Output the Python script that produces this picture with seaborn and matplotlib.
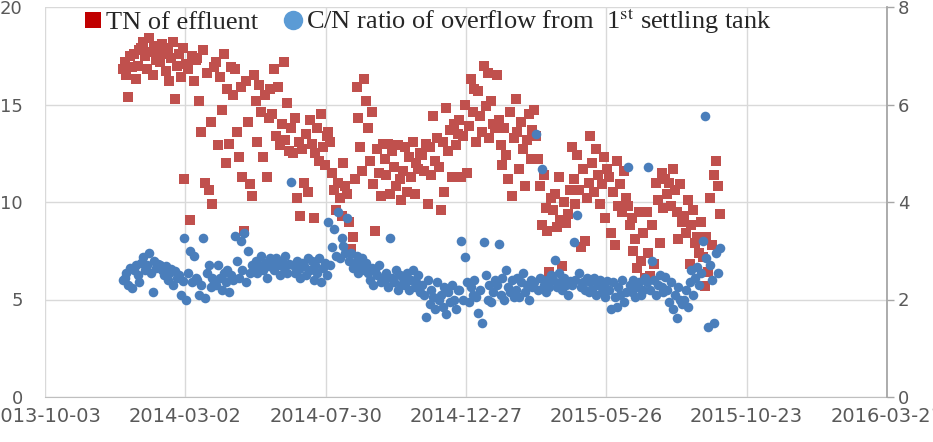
import matplotlib
matplotlib.use('Agg')
import matplotlib.pyplot as plt
import matplotlib.dates as mdates
from matplotlib.lines import Line2D
import pandas as pd
import seaborn as sns

# data: one value every 2 days starting at start_date
start_date = '2013-12-25'
step = '2D'

tn_effluent = [
    16.8, 17.2, 16.5, 15.4, 17.5, 16.9, 17.6, 16.3, 17.0, 17.8,
    17.9, 18.2, 17.5, 16.8, 18.4, 17.7, 16.5, 18.0, 17.3, 17.8,
    17.2, 18.1, 17.6, 16.7, 17.9, 16.2, 17.4, 18.2, 15.3, 17.0,
    17.6, 16.4, 17.9, 11.2, 17.1, 16.8, 9.1, 17.5, 16.2, 17.3,
    17.4, 15.2, 13.6, 17.8, 11.0, 16.6, 10.6, 14.1, 9.9, 16.9,
    17.2, 12.9, 16.4, 14.7, 17.6, 12.0, 15.8, 13.0, 16.9, 15.5,
    16.8, 13.6, 12.3, 15.9, 11.3, 8.5, 16.2, 14.1, 10.9, 10.3,
    16.5, 15.2, 13.1, 16.0, 14.6, 12.3, 15.5, 11.3, 14.3, 15.8,
    14.5, 16.8, 13.4, 15.9, 12.9, 14.0, 17.2, 13.2, 15.1, 12.6,
    13.8, 12.5, 14.3, 10.2, 13.1, 9.3, 12.7, 11.0, 13.5, 10.5,
    14.2, 13.0, 9.2, 12.5, 13.8, 12.1, 14.5, 12.8, 11.9, 13.4,
    13.6, 13.1, 11.5, 10.6, 9.6, 11.0, 10.2, 9.3, 12.0, 10.8,
    10.4, 9.0, 7.6, 8.2, 11.2, 15.9, 14.3, 12.8, 11.6, 16.3,
    15.2, 13.8, 12.1, 14.6, 10.9, 8.5, 12.7, 11.5, 10.3, 13.0,
    12.2, 11.4, 13.0, 10.4, 12.6, 11.8, 10.8, 12.9, 11.2, 10.1,
    11.6, 12.8, 10.5, 12.3, 11.3, 13.1, 10.4, 12.0, 11.7, 12.5,
    12.4, 11.6, 13.0, 9.9, 12.8, 11.4, 14.4, 12.1, 13.3, 11.8,
    9.6, 13.1, 10.5, 14.8, 12.6, 13.7, 11.3, 14.0, 12.9, 13.5,
    14.2, 11.3, 13.4, 15.0, 11.5, 13.9, 16.3, 14.6, 15.8, 13.1,
    15.7, 14.4, 13.6, 17.0, 14.9, 16.6, 13.3, 15.2, 14.0, 13.8,
    16.5, 14.2, 12.9, 11.9, 13.8, 12.4, 11.2, 14.6, 10.3, 13.3,
    15.3, 13.6, 11.7, 14.1, 12.7, 10.8, 13.2, 14.5, 12.2, 13.7,
    14.7, 13.4, 12.2, 10.8, 8.8, 11.4, 9.7, 8.5, 6.4, 10.2,
    9.6, 10.4, 8.7, 11.3, 9.1, 6.7, 10.0, 8.9, 9.4, 10.6,
    12.8, 11.2, 9.9, 12.4, 10.6, 7.7, 11.7, 8.0, 10.2, 11.0,
    13.4, 12.0, 10.5, 12.7, 11.4, 9.9, 10.9, 12.3, 9.2, 11.7,
    11.3, 8.4, 10.5, 7.8, 12.1, 9.8, 10.9, 9.5, 11.6, 10.2,
    9.8, 8.8, 9.2, 7.5, 8.1, 6.6, 9.5, 7.0, 8.4, 6.1,
    9.5, 7.4, 6.2, 8.8, 6.8, 11.0, 10.1, 7.9, 11.5, 9.7,
    11.2, 10.4, 11.0, 9.8, 11.7, 10.6, 9.5, 8.1, 10.9, 9.0,
    9.3, 8.4, 10.1, 6.8, 8.8, 9.6, 7.9, 8.2, 7.4, 9.0,
    7.2, 5.7, 8.2, 6.4, 10.2, 7.8, 11.4, 12.1, 10.8, 9.4,
]

cn_ratio = [
    2.40, 2.45, 2.55, 2.30, 2.65, 2.24, 2.60, 2.70, 2.50, 2.35,
    2.75, 2.88, 2.60, 2.70, 2.95, 2.55, 2.16, 2.80, 2.65, 2.72,
    2.70, 2.60, 2.50, 2.68, 2.40, 2.55, 2.62, 2.30, 2.58, 2.45,
    2.50, 2.10, 2.38, 3.27, 2.00, 2.55, 3.00, 2.35, 2.90, 2.45,
    2.40, 2.10, 2.30, 3.27, 2.04, 2.55, 2.70, 2.25, 2.45, 2.35,
    2.30, 2.70, 2.45, 2.20, 2.55, 2.35, 2.60, 2.15, 2.50, 2.40,
    3.30, 2.80, 2.45, 3.20, 2.60, 3.37, 2.35, 3.00, 2.55, 2.70,
    2.65, 2.80, 2.55, 2.70, 2.90, 2.60, 2.75, 2.45, 2.68, 2.85,
    2.75, 2.60, 2.85, 2.70, 2.50, 2.80, 2.65, 2.90, 2.55, 2.72,
    4.40, 2.70, 2.55, 2.80, 2.62, 2.45, 2.75, 2.68, 2.50, 2.85,
    2.60, 2.80, 2.40, 2.70, 2.55, 2.85, 2.35, 2.65, 2.75, 2.50,
    3.58, 2.70, 3.07, 3.44, 2.90, 3.79, 2.85, 3.27, 3.10, 2.95,
    3.68, 2.80, 2.95, 2.65, 2.75, 2.90, 2.55, 2.70, 2.85, 2.60,
    2.75, 2.55, 2.40, 2.65, 2.30, 2.60, 2.50, 2.70, 2.35, 2.45,
    2.40, 2.55, 2.25, 3.27, 2.45, 2.35, 2.60, 2.20, 2.50, 2.30,
    2.45, 2.30, 2.55, 2.20, 2.40, 2.60, 2.25, 2.35, 2.50, 2.15,
    2.30, 2.10, 1.65, 2.40, 1.90, 2.20, 2.05, 1.80, 2.35, 2.00,
    2.10, 1.85, 2.25, 1.70, 2.15, 1.95, 2.30, 2.00, 1.80, 2.20,
    2.20, 3.19, 2.00, 2.88, 2.35, 1.95, 2.25, 2.10, 2.40, 2.05,
    1.73, 2.20, 1.52, 3.17, 2.50, 2.00, 2.30, 1.95, 2.15, 2.40,
    2.30, 3.13, 2.10, 2.45, 2.00, 2.60, 2.25, 2.15, 2.40, 2.05,
    2.20, 2.45, 2.05, 2.35, 2.55, 2.15, 2.30, 2.00, 2.40, 2.25,
    2.35, 5.40, 2.20, 2.45, 4.67, 2.30, 2.15, 2.40, 2.25, 2.50,
    2.40, 2.82, 2.25, 2.55, 2.35, 2.20, 2.45, 2.30, 2.10, 2.38,
    2.30, 3.17, 2.40, 3.74, 2.55, 2.25, 2.35, 2.20, 2.45, 2.15,
    2.35, 2.20, 2.45, 2.10, 2.30, 2.40, 2.15, 2.25, 2.05, 2.38,
    2.20, 1.80, 2.35, 2.05, 1.85, 2.25, 2.10, 2.40, 1.95, 2.15,
    4.71, 2.30, 2.15, 2.40, 2.05, 2.25, 2.35, 2.10, 2.20, 2.45,
    2.35, 4.71, 2.20, 2.78, 2.40, 2.10, 2.30, 2.50, 2.25, 2.15,
    2.47, 2.20, 1.95, 2.35, 1.80, 2.10, 1.63, 2.25, 2.00, 1.90,
    2.00, 2.20, 1.85, 2.35, 2.60, 2.10, 2.45, 2.67, 2.30, 2.55,
    3.19, 5.76, 2.86, 1.44, 2.70, 2.40, 1.52, 2.95, 2.55, 3.05,
]

x_ticks = ['2013-10-03', '2014-03-02', '2014-07-30', '2014-12-27',
           '2015-05-26', '2015-10-23', '2016-03-21']
left_ticks = [0, 5, 10, 15, 20]
right_ticks = [0, 2, 4, 6, 8]

label_tn = 'TN of effluent'
label_cn = r'C/N ratio of overflow from  1$^{\mathrm{st}}$ settling tank'

df = pd.DataFrame({
    'date': pd.date_range(start_date, periods=len(tn_effluent), freq=step),
    'tn': tn_effluent,
    'cn': cn_ratio,
})

sns.set_style('white')
plt.rcParams['font.family'] = ['DejaVu Sans']
plt.rcParams['mathtext.fontset'] = 'stix'

red = '#c0504d'
blue = '#4a7ebb'
grid_c = '#d9d9d9'
text_c = '#595959'

fig = plt.figure(figsize=(9.33, 4.42), dpi=100)
ax = fig.add_axes([45 / 933, 1 - 397 / 442, 842 / 933, 390 / 442])
ax2 = ax.twinx()

sns.scatterplot(data=df, x='date', y='tn', ax=ax, marker='s', s=50,
                color=red, linewidth=0, legend=False)
sns.scatterplot(data=df, x='date', y='cn', ax=ax2, marker='o', s=48,
                color=blue, linewidth=0, legend=False)

xt = pd.to_datetime(x_ticks)
ax.set_xlim(xt[0], xt[-1])
ax.set_xticks(xt)
ax.xaxis.set_major_formatter(mdates.DateFormatter('%Y-%m-%d'))
ax.set_ylim(0, 20)
ax.set_yticks(left_ticks)
ax2.set_ylim(0, 8)
ax2.set_yticks(right_ticks)

ax.grid(True, color=grid_c, linewidth=1)
ax.set_axisbelow(True)
ax2.grid(False)
ax.set_xlabel('')
ax.set_ylabel('')
ax2.set_ylabel('')

for a in (ax, ax2):
    for sp in a.spines.values():
        sp.set_visible(False)
ax.spines['bottom'].set_visible(True)
ax.spines['bottom'].set_color('#bfbfbf')
ax2.spines['right'].set_visible(True)
ax2.spines['right'].set_color('#a6a6a6')
ax2.spines['right'].set_linewidth(1.3)

ax.tick_params(axis='x', length=0, pad=7, labelsize=14, labelcolor=text_c)
ax.tick_params(axis='y', length=0, pad=16, labelsize=13, labelcolor=text_c)
ax2.tick_params(axis='y', length=5, width=1, color='#a6a6a6', pad=3,
                labelsize=13, labelcolor=text_c)

handles = [
    Line2D([], [], marker='s', linestyle='', markersize=12,
           markerfacecolor='#c00000', markeredgewidth=0),
    Line2D([], [], marker='o', linestyle='', markersize=14,
           markerfacecolor='#5b9bd5', markeredgewidth=0),
]
fig.legend(handles, [label_tn, label_cn], loc='center left',
           bbox_to_anchor=(80 / 933, 1 - 21 / 442), ncol=2, frameon=False,
           prop={'family': 'Liberation Serif', 'size': 19},
           handletextpad=0.0, columnspacing=0.8, handlelength=1.0,
           borderpad=0, borderaxespad=0)

fig.savefig('out.png', dpi=100)
